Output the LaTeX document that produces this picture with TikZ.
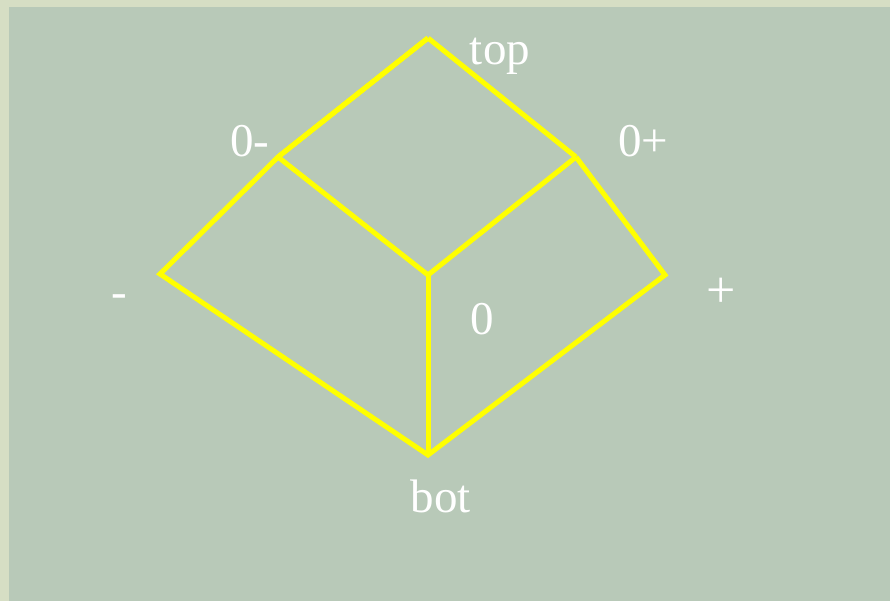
\documentclass[tikz,border=0pt]{standalone}
\usepackage{fontspec}
\setmainfont{Liberation Serif}
\begin{document}
\begin{tikzpicture}[x=1pt,y=-1pt,
  edge/.style={draw={rgb,255:red,255;green,255;blue,0},line width=5pt,line join=miter},
  lab/.style={text=white,font=\fontsize{47}{47}\selectfont,inner sep=0pt,anchor=base},
  pt/.style={inner sep=0pt,minimum size=0pt}]
\definecolor{panel}{RGB}{184,201,184}
\definecolor{frame}{RGB}{214,222,196}
\fill[frame] (0,0) rectangle (890,601);
\fill[panel] (9,7) rectangle (890,601);
\useasboundingbox (0,0) rectangle (890,601);
\node[pt] (top) at (428,38) {};
\node[pt] (zm) at (278,157) {};
\node[pt] (zp) at (576,157) {};
\node[pt] (c) at (428,275) {};
\node[pt] (m) at (160,274) {};
\node[pt] (p) at (665,275) {};
\node[pt] (bot) at (428,455) {};
\draw[edge] (zm) -- (top) -- (zp);
\draw[edge] (zm) -- (c) -- (zp);
\draw[edge] (top.center) -- (zm.center) -- (m.center) -- (bot.center) -- (p.center) -- (zp.center);
\draw[edge] (c) -- (bot);
\node[lab] (ltop) at (500,65) {top};
\node[lab] (lzm) at (250,157) {0-};
\node[lab] (lzp) at (643,157) {0+};
\node[lab] (lm) at (119,307) {-};
\node[lab, font=\fontsize{52}{52}\selectfont] (lp) at (721,307) {+};
\node[lab] (lc) at (482,334) {0};
\node[lab] (lbot) at (441,512) {bot};
\end{tikzpicture}
\end{document}
